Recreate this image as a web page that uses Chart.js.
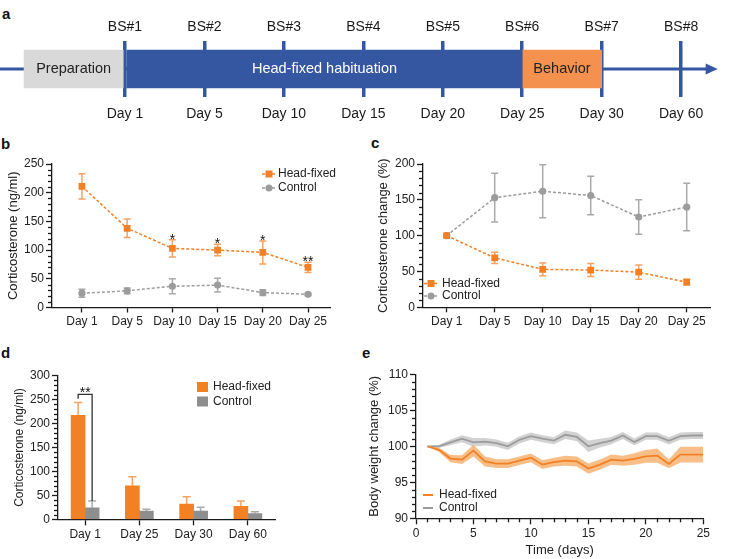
<!DOCTYPE html>
<html>
<head>
<meta charset="utf-8">
<script src="https://cdn.jsdelivr.net/npm/chart.js@4.4.1/dist/chart.umd.min.js"></script>
<style>
  body { margin: 0; background: #fff; width: 732px; height: 559px; position: relative; overflow: hidden;
         font-family: "Liberation Sans", Arial, sans-serif; }
  canvas { position: absolute; }
  .lbl { position: absolute; font-weight: bold; font-size: 15px; line-height: 15px; color: #111; }
</style>
</head>
<body>
<div class="lbl" style="left:2px;top:6px">a</div>
<div class="lbl" style="left:1px;top:136px">b</div>
<div class="lbl" style="left:371px;top:135px">c</div>
<div class="lbl" style="left:1px;top:345px">d</div>
<div class="lbl" style="left:362px;top:345px">e</div>

<canvas id="ca" width="732" height="130" style="left:0;top:0"></canvas>
<canvas id="cb" width="370" height="200" style="left:0;top:130px"></canvas>
<canvas id="cc" width="362" height="200" style="left:370px;top:130px"></canvas>
<canvas id="cd" width="370" height="229" style="left:0;top:330px"></canvas>
<canvas id="ce" width="372" height="229" style="left:360px;top:330px"></canvas>

<script>
// ---- timeline (a)
const bsLabels = ['BS#1', 'BS#2', 'BS#3', 'BS#4', 'BS#5', 'BS#6', 'BS#7', 'BS#8'];
const sampleDays = ['Day 1', 'Day 5', 'Day 10', 'Day 15', 'Day 20', 'Day 25', 'Day 30', 'Day 60'];
const phaseNames = ['Preparation', 'Head-fixed habituation', 'Behavior'];
const phaseStart = [-1.27, 0, 5];
const phaseEnd = [0, 5, 6];
const arrowEnd = 7.46;

// ---- corticosterone time course (b)
const daysBC = ['Day 1', 'Day 5', 'Day 10', 'Day 15', 'Day 20', 'Day 25'];
const hfCort = [211, 138, 103, 100, 96, 70];
const hfCortErr = [22, 16, 15, 10, 20, 9];
const ctCort = [25, 29, 37, 39, 26, 23];
const ctCortErr = [7, 5, 13, 12, 5, 2];
const sigB = ['', '', '*', '*', '*', '**'];

// ---- corticosterone change (c)
const hfChange = [100, 69, 53, 52, 49, 35];
const hfChangeErr = [0, 8, 9, 9, 10, 4];
const ctChange = [100, 153, 162, 156, 126, 140];
const ctChangeErr = [0, 34, 37, 27, 24, 33];

// ---- bars (d)
const daysD = ['Day 1', 'Day 25', 'Day 30', 'Day 60'];
const hfBar = [217, 70, 32, 27];
const hfBarErr = [27, 19, 15, 11];
const ctBar = [24, 17, 17, 12];
const ctBarErr = [14, 4, 8, 4];

// ---- body weight (e)
const weightDays = [1, 2, 3, 4, 5, 6, 7, 8, 9, 10, 11, 12, 13, 14, 15, 16, 17, 18, 19, 20, 21, 22, 23, 24, 25];
const hfWeight = [100, 99.5, 98.3, 98.15, 99.4, 97.9, 97.6, 97.6, 98.0, 98.4, 97.45, 97.8, 98.0, 97.9, 96.9,
                  97.45, 98.15, 98.0, 98.25, 98.6, 98.7, 97.55, 98.85, 98.85, 98.85];
const hfWeightSem = [0, 0.3, 0.5, 0.6, 0.8, 0.7, 0.6, 0.6, 0.6, 0.6, 0.6, 0.6, 0.7, 0.7, 0.7,
                     0.7, 0.7, 0.7, 0.8, 0.9, 1.0, 0.6, 1.1, 1.1, 1.1];
const ctWeight = [100, 100, 100.55, 101.05, 100.55, 100.65, 100.45, 100.0, 100.9, 101.4, 101.05, 100.8, 101.6, 101.3, 100.0,
                  100.45, 100.8, 101.5, 100.6, 101.4, 101.4, 100.75, 101.4, 101.5, 101.5];
const ctWeightSem = [0, 0.2, 0.4, 0.5, 0.6, 0.5, 0.5, 0.5, 0.5, 0.5, 0.5, 0.5, 0.6, 0.6, 0.8,
                     0.6, 0.5, 0.5, 0.5, 0.5, 0.5, 0.5, 0.5, 0.5, 0.5];

// colours
const ORANGE = '#f28125';
const ORANGE_ERR = '#f5a263';
const ORANGE_BAND = 'rgba(246, 168, 95, 0.75)';
const GREY = '#9c9c9c';
const GREY_ERR = '#aaaaaa';
const GREY_BAR = '#8e8e8e';
const GREY_BAND = 'rgba(195, 195, 195, 0.75)';
const BLUE = '#3557a1';
const AX = '#1a1a1a';
const FONT = "'Liberation Sans', Arial, sans-serif";

Chart.defaults.font.family = FONT;
Chart.defaults.color = '#222';
Chart.defaults.animation = false;
Chart.defaults.responsive = false;
Chart.defaults.plugins.legend.display = false;
Chart.defaults.plugins.tooltip.enabled = false;

const valOf = (ds, i) => (typeof ds.data[i] === 'object' ? ds.data[i].y : ds.data[i]);

// error bars, drawn under the markers
const errorBars = {
  id: 'errorBars',
  beforeDatasetsDraw(chart) {
    const ctx = chart.ctx;
    chart.data.datasets.forEach((ds, di) => {
      if (!ds.errors) return;
      const meta = chart.getDatasetMeta(di);
      const ys = chart.scales[meta.yAxisID];
      meta.data.forEach((el, i) => {
        const e = ds.errors[i];
        if (!e) return;
        const v = valOf(ds, i);
        const top = ys.getPixelForValue(v + e);
        const bot = ds.errUpOnly ? ys.getPixelForValue(v) : ys.getPixelForValue(v - e);
        const cap = ds.capHalf || 3.5;
        ctx.save();
        ctx.strokeStyle = ds.errColor;
        ctx.lineWidth = 1.5;
        ctx.beginPath();
        ctx.moveTo(el.x, top); ctx.lineTo(el.x, bot);
        ctx.moveTo(el.x - cap, top); ctx.lineTo(el.x + cap, top);
        if (!ds.errUpOnly) { ctx.moveTo(el.x - cap, bot); ctx.lineTo(el.x + cap, bot); }
        ctx.stroke();
        ctx.restore();
      });
    });
  }
};

// short minor ticks between the labelled ones (major step per axis id)
function minorTicks(majors) {
  return {
    id: 'minorTicks',
    afterDraw(chart) {
      const ctx = chart.ctx;
      ctx.save();
      ctx.strokeStyle = AX;
      ctx.lineWidth = 1.3;
      for (const id in majors) {
        const s = chart.scales[id];
        if (!s) continue;
        const horiz = s.isHorizontal();
        s.ticks.forEach(t => {
          if (Math.abs(t.value % majors[id]) < 1e-6) return;
          const p = Math.round(s.getPixelForValue(t.value)) + 0.5;
          ctx.beginPath();
          if (horiz) { ctx.moveTo(p, chart.chartArea.bottom); ctx.lineTo(p, chart.chartArea.bottom + 4); }
          else { ctx.moveTo(chart.chartArea.left, p); ctx.lineTo(chart.chartArea.left - 4, p); }
          ctx.stroke();
        });
      }
      ctx.restore();
    }
  };
}

// little legends drawn from the dataset styles
const miniLegend = {
  id: 'miniLegend',
  afterDraw(chart, args, o) {
    if (!o.items) return;
    const ctx = chart.ctx;
    ctx.save();
    ctx.font = '12px ' + FONT;
    ctx.textBaseline = 'middle';
    o.items.forEach((di, k) => {
      const ds = chart.data.datasets[di];
      const y = o.y + k * o.gap;
      const x = o.x;
      if (o.kind === 'lp') {
        ctx.strokeStyle = ds.borderColor;
        ctx.lineWidth = 1.5;
        ctx.setLineDash([3, 2]);
        ctx.beginPath(); ctx.moveTo(x - 7, y); ctx.lineTo(x + 7, y); ctx.stroke();
        ctx.setLineDash([]);
        ctx.fillStyle = ds.pointBackgroundColor;
        ctx.beginPath();
        if (ds.pointStyle === 'rect') ctx.rect(x - 3.5, y - 3.5, 7, 7);
        else ctx.arc(x, y, 3.5, 0, Math.PI * 2);
        ctx.fill();
      } else if (o.kind === 'box') {
        ctx.fillStyle = ds.backgroundColor;
        ctx.fillRect(x - 5.5, y - 5, 11, 10);
      } else {
        ctx.strokeStyle = ds.borderColor;
        ctx.lineWidth = 2;
        ctx.beginPath(); ctx.moveTo(x - 5, y); ctx.lineTo(x + 5, y); ctx.stroke();
      }
      ctx.fillStyle = '#222';
      ctx.textAlign = 'left';
      ctx.fillText(ds.label, o.textX, y);
    });
    ctx.restore();
  }
};

// prism-like y axis; minor ticks are added by the minorTicks plugin
function yAxis(o) {
  const list = [];
  for (let v = o.min; v <= o.max + 1e-9; v += o.step) list.push(Math.round(v * 100) / 100);
  return {
    type: 'linear', position: 'left', min: o.min, max: o.max,
    afterFit: s => { s.width = o.width; },
    afterBuildTicks: s => { s.ticks = list.map(v => ({ value: v })); },
    border: { color: AX, width: 1.3 },
    grid: {
      drawOnChartArea: false, tickLength: 6, tickWidth: 1.3,
      tickColor: c => (c.tick && c.tick.value % o.major !== 0) ? 'rgba(0,0,0,0)' : AX
    },
    ticks: { autoSkip: false, padding: 2, color: '#222', font: { size: 12 },
             callback: v => (v % o.major === 0 ? String(v) : '') },
    title: { display: true, text: o.title, color: '#222', font: { size: o.titleSize },
             padding: { top: o.titlePad, bottom: 0 } }
  };
}

function dayAxis(labels, min, max, height) {
  return {
    type: 'linear', min: min, max: max,
    afterFit: s => { s.height = height; },
    afterBuildTicks: s => { s.ticks = labels.map((_, i) => ({ value: i })); },
    border: { color: AX, width: 1.3 },
    grid: { drawOnChartArea: false, tickLength: 5, tickColor: AX, tickWidth: 1.3 },
    ticks: { autoSkip: false, maxRotation: 0, padding: 2, color: '#222', font: { size: 12 },
             callback: v => labels[v] }
  };
}

// ================= a: timeline =================
const timelineText = {
  id: 'timelineText',
  beforeDatasetsDraw(chart) {
    const ctx = chart.ctx;
    const xs = chart.scales.x;
    const y = chart.scales.y.getPixelForValue(0);
    const x0 = xs.getPixelForValue(xs.min);
    const x1 = xs.getPixelForValue(arrowEnd);
    ctx.save();
    ctx.strokeStyle = BLUE; ctx.fillStyle = BLUE; ctx.lineWidth = 3;
    ctx.beginPath(); ctx.moveTo(x0, y); ctx.lineTo(x1 - 10, y); ctx.stroke();
    ctx.beginPath(); ctx.moveTo(x1, y); ctx.lineTo(x1 - 12, y - 5.5); ctx.lineTo(x1 - 12, y + 5.5); ctx.closePath(); ctx.fill();
    ctx.restore();
  },
  afterDatasetsDraw(chart) {
    const ctx = chart.ctx;
    ctx.save();
    ctx.font = '14.5px ' + FONT;
    ctx.textAlign = 'center'; ctx.textBaseline = 'middle';
    chart.data.datasets.forEach((ds, i) => {
      const el = chart.getDatasetMeta(i).data[0];
      ctx.fillStyle = ds.textColor;
      ctx.fillText(ds.label, (el.x + el.base) / 2, el.y);
    });
    ctx.restore();
  }
};

const phaseColors = ['#d9d9d9', BLUE, '#f4914f'];
const phaseText = ['#222', '#fff', '#222'];
new Chart(document.getElementById('ca'), {
  type: 'bar',
  data: {
    labels: ['timeline'],
    datasets: phaseNames.map((n, i) => ({
      label: n, data: [[phaseStart[i], phaseEnd[i]]],
      backgroundColor: phaseColors[i], textColor: phaseText[i],
      barThickness: 38, grouped: false, borderWidth: 0
    }))
  },
  options: {
    indexAxis: 'y',
    layout: { padding: 0 },
    scales: {
      y: { display: false },
      x: {
        type: 'linear', position: 'bottom', min: -1.573, max: 7.64, z: 1,
        afterFit: s => { s.height = 33; },
        afterBuildTicks: s => { s.ticks = sampleDays.map((_, i) => ({ value: i })); },
        border: { display: false },
        grid: { drawTicks: false, color: BLUE, lineWidth: 3.5 },
        ticks: { autoSkip: false, maxRotation: 0, padding: 9, color: '#1a1a1a', font: { size: 14 },
                 callback: v => sampleDays[v] }
      },
      x2: {
        type: 'linear', position: 'top', min: -1.573, max: 7.64,
        afterFit: s => { s.height = 41; },
        afterBuildTicks: s => { s.ticks = bsLabels.map((_, i) => ({ value: i })); },
        border: { display: false },
        grid: { display: false },
        ticks: { autoSkip: false, maxRotation: 0, padding: -3, color: '#1a1a1a', font: { size: 14 },
                 callback: v => bsLabels[v] }
      }
    }
  },
  plugins: [timelineText]
});

// ================= b =================
const starsB = {
  id: 'starsB',
  afterDatasetsDraw(chart) {
    const ctx = chart.ctx;
    const ds = chart.data.datasets[0];
    const meta = chart.getDatasetMeta(0);
    const ys = chart.scales.y;
    ctx.save();
    ctx.font = '14px ' + FONT;
    ctx.fillStyle = '#111';
    ctx.textAlign = 'center'; ctx.textBaseline = 'alphabetic';
    sigB.forEach((s, i) => {
      if (!s) return;
      ctx.fillText(s, meta.data[i].x, ys.getPixelForValue(valOf(ds, i) + ds.errors[i]) + 4);
    });
    ctx.restore();
  }
};

new Chart(document.getElementById('cb'), {
  type: 'line',
  data: {
    datasets: [
      { label: 'Head-fixed', data: daysBC.map((d, i) => ({ x: i, y: hfCort[i] })), errors: hfCortErr,
        errColor: ORANGE_ERR, borderColor: ORANGE, borderWidth: 1.5, borderDash: [3, 2],
        pointStyle: 'rect', pointRadius: 4.8, pointBackgroundColor: ORANGE, pointBorderWidth: 0 },
      { label: 'Control', data: daysBC.map((d, i) => ({ x: i, y: ctCort[i] })), errors: ctCortErr,
        errColor: GREY_ERR, borderColor: GREY, borderWidth: 1.5, borderDash: [3, 2],
        pointStyle: 'circle', pointRadius: 3.6, pointBackgroundColor: GREY, pointBorderWidth: 0 }
    ]
  },
  options: {
    layout: { padding: { top: 34, right: 40, left: 0, bottom: 0 } },
    scales: {
      x: dayAxis(daysBC, -0.662, 5.486, 22.5),
      y: yAxis({ min: 0, max: 250, step: 10, major: 50, width: 52, title: 'Corticosterone (ng/ml)', titleSize: 13, titlePad: 6 })
    },
    plugins: {
      miniLegend: { kind: 'lp', items: [0, 1], x: 269, y: 44, gap: 14, textX: 278 }
    }
  },
  plugins: [errorBars, miniLegend, starsB, minorTicks({ y: 50 })]
});

// ================= c =================
new Chart(document.getElementById('cc'), {
  type: 'line',
  data: {
    datasets: [
      { label: 'Head-fixed', data: daysBC.map((d, i) => ({ x: i, y: hfChange[i] })), errors: hfChangeErr,
        errColor: ORANGE_ERR, borderColor: ORANGE, borderWidth: 1.5, borderDash: [3, 2],
        pointStyle: 'rect', pointRadius: 4.8, pointBackgroundColor: ORANGE, pointBorderWidth: 0 },
      { label: 'Control', data: daysBC.map((d, i) => ({ x: i, y: ctChange[i] })), errors: ctChangeErr,
        errColor: GREY_ERR, borderColor: GREY, borderWidth: 1.5, borderDash: [3, 2],
        pointStyle: 'circle', pointRadius: 3.6, pointBackgroundColor: GREY, pointBorderWidth: 0 }
    ]
  },
  options: {
    layout: { padding: { top: 34, right: 22, left: 0, bottom: 0 } },
    scales: {
      x: dayAxis(daysBC, -0.494, 5.485, 22.7),
      y: yAxis({ min: 0, max: 200, step: 10, major: 50, width: 53, title: 'Corticosterone change (%)', titleSize: 13, titlePad: 6 })
    },
    plugins: {
      miniLegend: { kind: 'lp', items: [0, 1], x: 61, y: 153.5, gap: 12.5, textX: 72 }
    }
  },
  plugins: [errorBars, miniLegend, minorTicks({ y: 50 })]
});

// ================= d =================
const bracketD = {
  id: 'bracketD',
  afterDatasetsDraw(chart) {
    const ctx = chart.ctx;
    const ys = chart.scales.y;
    const a = chart.getDatasetMeta(0).data[0];
    const b = chart.getDatasetMeta(1).data[0];
    const yTop = ys.getPixelForValue(261);
    const yL = ys.getPixelForValue(252);
    const yR = ys.getPixelForValue(ctBar[0] + ctBarErr[0]);
    ctx.save();
    ctx.strokeStyle = '#333'; ctx.lineWidth = 1.3;
    ctx.beginPath();
    ctx.moveTo(a.x, yL); ctx.lineTo(a.x, yTop); ctx.lineTo(b.x, yTop); ctx.lineTo(b.x, yR);
    ctx.stroke();
    ctx.font = '14px ' + FONT; ctx.fillStyle = '#111';
    ctx.textAlign = 'center'; ctx.textBaseline = 'alphabetic';
    ctx.fillText('**', (a.x + b.x) / 2, yTop + 3);
    ctx.restore();
  }
};

new Chart(document.getElementById('cd'), {
  type: 'bar',
  data: {
    labels: daysD,
    datasets: [
      { label: 'Head-fixed', data: hfBar, errors: hfBarErr, errUpOnly: true, errColor: ORANGE_ERR, capHalf: 4,
        backgroundColor: ORANGE, barThickness: 14, categoryPercentage: 0.76 },
      { label: 'Control', data: ctBar, errors: ctBarErr, errUpOnly: true, errColor: GREY_ERR, capHalf: 4,
        backgroundColor: GREY_BAR, barThickness: 14, categoryPercentage: 0.76 }
    ]
  },
  options: {
    layout: { padding: { top: 45.7, right: 95, left: 0, bottom: 0 } },
    scales: {
      x: {
        afterFit: s => { s.height = 39.7; },
        border: { color: AX, width: 1.3 },
        grid: { drawOnChartArea: false, offset: false, tickLength: 6, tickColor: AX, tickWidth: 1.3 },
        ticks: { maxRotation: 0, padding: 2, color: '#222', font: { size: 12 } }
      },
      y: yAxis({ min: 0, max: 300, step: 10, major: 50, width: 58, title: 'Corticosterone (ng/ml)', titleSize: 12, titlePad: 12.5 })
    },
    plugins: {
      miniLegend: { kind: 'box', items: [0, 1], x: 202.5, y: 57, gap: 14.5, textX: 213 }
    }
  },
  plugins: [errorBars, miniLegend, bracketD, minorTicks({ y: 50 })]
});

// ================= e =================
const pts = (vals, sem, sign) => weightDays.map((d, i) => ({ x: d, y: vals[i] + sign * sem[i] }));
new Chart(document.getElementById('ce'), {
  type: 'line',
  data: {
    datasets: [
      { label: 'Head-fixed', data: pts(hfWeight, hfWeightSem, 0), borderColor: ORANGE, borderWidth: 1.8,
        pointRadius: 0, fill: false, order: 0 },
      { label: 'Control', data: pts(ctWeight, ctWeightSem, 0), borderColor: GREY, borderWidth: 1.8,
        pointRadius: 0, fill: false, order: 1 },
      { label: 'hf upper', data: pts(hfWeight, hfWeightSem, 1), borderWidth: 0, pointRadius: 0,
        fill: '+1', backgroundColor: ORANGE_BAND, order: 2 },
      { label: 'hf lower', data: pts(hfWeight, hfWeightSem, -1), borderWidth: 0, pointRadius: 0,
        fill: false, order: 2 },
      { label: 'ct upper', data: pts(ctWeight, ctWeightSem, 1), borderWidth: 0, pointRadius: 0,
        fill: '+1', backgroundColor: GREY_BAND, order: 3 },
      { label: 'ct lower', data: pts(ctWeight, ctWeightSem, -1), borderWidth: 0, pointRadius: 0,
        fill: false, order: 3 }
    ]
  },
  options: {
    layout: { padding: { top: 44.3, right: 28.7, left: 0, bottom: 0 } },
    scales: {
      x: {
        type: 'linear', min: 0, max: 25,
        afterFit: s => { s.height = 40.7; },
        afterBuildTicks: s => { s.ticks = [0].concat(weightDays).map(v => ({ value: v })); },
        border: { color: AX, width: 1.3 },
        grid: { drawOnChartArea: false, tickLength: 6, tickWidth: 1.3,
                tickColor: c => (c.tick && c.tick.value % 5 !== 0) ? 'rgba(0,0,0,0)' : AX },
        ticks: { autoSkip: false, maxRotation: 0, padding: 2, color: '#222', font: { size: 12 },
                 callback: v => (v % 5 === 0 ? String(v) : '') },
        title: { display: true, text: 'Time (days)', color: '#222', font: { size: 13 }, padding: { top: 0, bottom: 1 } }
      },
      y: yAxis({ min: 90, max: 110, step: 1, major: 5, width: 56, title: 'Body weight change (%)', titleSize: 13, titlePad: 7 })
    },
    plugins: {
      miniLegend: { kind: 'seg', items: [0, 1], x: 68, y: 165, gap: 13, textX: 79 }
    }
  },
  plugins: [miniLegend, minorTicks({ x: 5, y: 5 })]
});
</script>
</body>
</html>
